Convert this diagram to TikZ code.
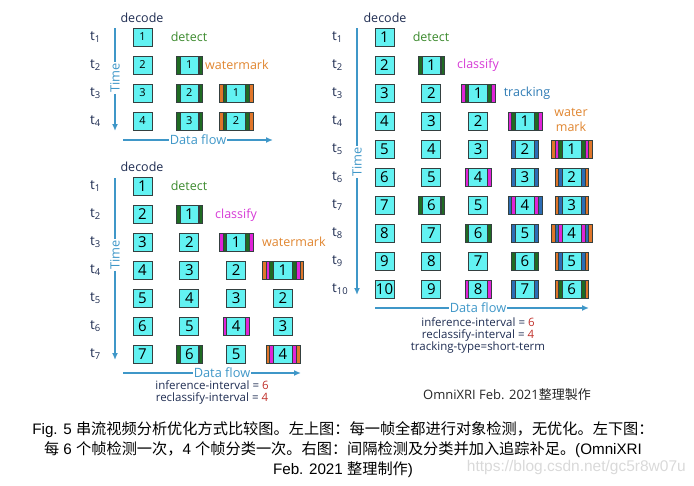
\documentclass[tikz,border=0pt]{standalone}
\usepackage{fontspec}
\setmainfont{Open Sans}
\newfontfamily\capfont{Liberation Sans}
\newfontfamily\cjk{Noto Sans CJK SC}
\newfontfamily\cjktc{Noto Sans CJK TC}
\usetikzlibrary{arrows.meta}

\definecolor{boxc}{HTML}{62F2F2}
\definecolor{edge}{HTML}{344040}
\definecolor{grn}{HTML}{1F6B22}
\definecolor{mag}{HTML}{E024D8}
\definecolor{org}{HTML}{E0762A}
\definecolor{blu}{HTML}{2C6DB5}
\definecolor{navy}{HTML}{1F2D52}
\definecolor{flow}{HTML}{3F97C8}
\definecolor{detc}{HTML}{3C8A2E}
\definecolor{clsc}{HTML}{D63AD6}
\definecolor{trkc}{HTML}{2E7BB4}
\definecolor{wmc}{HTML}{E0852F}
\definecolor{numr}{HTML}{C0302A}

\tikzset{
  cell/.style={draw=edge, fill=boxc, line width=0.9pt, minimum width=19pt,
    minimum height=18pt, inner sep=0pt, font=\fontsize{15}{15}\selectfont},
  smallnum/.style={font=\fontsize{11}{11}\selectfont},
  band/.style={draw=edge, line width=0.5pt},
  lab/.style={inner sep=1pt, font=\fontsize{12.5}{14.5}\selectfont},
  tlab/.style={lab, anchor=west, inner sep=0pt, text=navy, font=\fontsize{13.5}{15}\selectfont},
  flowtxt/.style={lab, text=flow, font=\fontsize{12.8}{14}\selectfont},
  flowline/.style={draw=flow, line width=1.4pt},
  tip/.style={-{Latex[length=7pt,width=6pt]}},
  note/.style={inner sep=0pt, text=navy, font=\fontsize{11.5}{13}\selectfont}
}

% stripes beside a frame, listed from inside out
\newcommand\strp[2]{%
  \foreach \c [count=\k] in {#2}{
    \filldraw[band,fill=\c,shift={(#1)}] ({-9.5-\k*3.7},-9) rectangle ({-5.8-\k*3.7},9);
    \filldraw[band,fill=\c,shift={(#1)}] ({5.8+\k*3.7},-9) rectangle ({9.5+\k*3.7},9);
  }}

\begin{document}
\begin{tikzpicture}[x=1pt,y=-1pt]
\useasboundingbox (0,0) rectangle (694,485);

% top left: every frame detected
\node[lab,text=navy] (tl-dec) at (142,18) {decode};
\foreach \r in {1,...,4}{
  \node[tlab] (tl-t\r) at (90,{37+28*(\r-1)}) {t\textsubscript{\r}};
  \foreach \c [evaluate=\c as \n using int(\r-\c+1)] in {1,...,\r}{
    \ifnum\c<4 \node[cell,smallnum] (tl-\r-\c) at ({142.5+46.8*(\c-1)},{37+28*(\r-1)}) {\n};\fi
  }
}
\strp{tl-2-2}{grn}
\strp{tl-3-2}{grn}
\strp{tl-4-2}{grn}
\strp{tl-3-3}{grn,org}
\strp{tl-4-3}{grn,org}
\node[lab,text=detc] (tl-det) at (189,37) {detect};
\node[lab,text=wmc,anchor=west] (tl-wm) at (204,65) {watermark};
\node[flowtxt,rotate=90] (tl-time) at (115,78) {Time};
\coordinate (tl-top) at (115,28);
\coordinate (tl-bot) at (115,131);
\draw[flowline] (tl-top) -- (tl-time);
\draw[flowline,tip] (tl-time) -- (tl-bot);
\node[flowtxt] (tl-flow) at (198,140) {Data flow};
\coordinate (tl-fl) at (123,140);
\coordinate (tl-fr) at (273,140);
\draw[flowline] (tl-fl) -- (tl-flow);
\draw[flowline,tip] (tl-flow) -- (tl-fr);

% bottom left: detect every 6, classify every 4
\node[lab,text=navy] (bl-dec) at (142,167) {decode};
\foreach \r in {1,...,7}{
  \node[tlab] (bl-t\r) at (90,{186+28*(\r-1)}) {t\textsubscript{\r}};
  \foreach \c [evaluate=\c as \n using int(\r-\c+1)] in {1,...,\r}{
    \ifnum\c<5 \node[cell] (bl-\r-\c) at ({142.5+46.8*(\c-1)},{186+28*(\r-1)}) {\n};\fi
  }
}
\strp{bl-2-2}{grn}
\strp{bl-3-3}{grn,mag}
\strp{bl-4-4}{grn,mag,org}
\strp{bl-6-3}{mag}
\strp{bl-7-2}{grn}
\strp{bl-7-4}{mag,org}
\node[lab,text=detc] (bl-det) at (189,186) {detect};
\node[lab,text=clsc] (bl-cls) at (236,215) {classify};
\node[lab,text=wmc,anchor=west] (bl-wm) at (261,242) {watermark};
\node[flowtxt,rotate=90] (bl-time) at (115,255) {Time};
\coordinate (bl-top) at (115,178);
\coordinate (bl-bot) at (115,360);
\draw[flowline] (bl-top) -- (bl-time);
\draw[flowline,tip] (bl-time) -- (bl-bot);
\node[flowtxt] (bl-flow) at (222,373) {Data flow};
\coordinate (bl-fl) at (123,373);
\coordinate (bl-fr) at (301,373);
\draw[flowline] (bl-fl) -- (bl-flow);
\draw[flowline,tip] (bl-flow) -- (bl-fr);
\node[note] (bl-inf) at (212,385) {inference-interval = \textcolor{numr}{6}};
\node[note] (bl-rcl) at (212,398) {reclassify-interval = \textcolor{numr}{4}};

% right: interval detect and classify plus tracking
\node[lab,text=navy] (r-dec) at (385,18) {decode};
\foreach \r in {1,...,10}{
  \node[tlab] (r-t\r) at (332,{37+28*(\r-1)}) {t\textsubscript{\r}};
  \foreach \c [evaluate=\c as \n using int(\r-\c+1)] in {1,...,\r}{
    \ifnum\c<6 \node[cell] (r-\r-\c) at ({384.5+46.8*(\c-1)},{37+28*(\r-1)}) {\n};\fi
  }
}
\strp{r-2-2}{grn}
\strp{r-3-3}{grn,mag}
\strp{r-4-4}{grn,mag}
\strp{r-5-4}{blu}
\strp{r-5-5}{grn,mag,org}
\strp{r-6-3}{mag}
\strp{r-6-4}{blu}
\strp{r-6-5}{blu,org}
\strp{r-7-2}{grn}
\strp{r-7-4}{mag,blu}
\strp{r-7-5}{blu,org}
\strp{r-8-3}{grn}
\strp{r-8-4}{blu}
\strp{r-8-5}{mag,blu,org}
\strp{r-9-4}{grn}
\strp{r-9-5}{blu,org}
\strp{r-10-3}{mag}
\strp{r-10-4}{blu}
\strp{r-10-5}{grn,org}
\node[lab,text=detc] (r-det) at (431,37) {detect};
\node[lab,text=clsc] (r-cls) at (478,65) {classify};
\node[lab,text=trkc] (r-trk) at (527,93) {tracking};
\node[lab,text=wmc,align=center] (r-wm) at (571,120) {water\\mark};
\node[flowtxt,rotate=90] (r-time) at (357,162) {Time};
\coordinate (r-top) at (357,28);
\coordinate (r-bot) at (357,295);
\draw[flowline] (r-top) -- (r-time);
\draw[flowline,tip] (r-time) -- (r-bot);
\node[flowtxt] (r-flow) at (478,308) {Data flow};
\coordinate (r-fl) at (375,308);
\coordinate (r-fr) at (589,308);
\draw[flowline] (r-fl) -- (r-flow);
\draw[flowline,tip] (r-flow) -- (r-fr);
\node[note] (r-inf) at (478,322) {inference-interval = \textcolor{numr}{6}};
\node[note] (r-rcl) at (478,335) {reclassify-interval = \textcolor{numr}{4}};
\node[note] (r-trt) at (478,348) {tracking-type=short-term};
\node[inner sep=0pt,text=black!85,font=\fontsize{13}{15}\selectfont] (sig) at (507,395) {OmniXRI Feb. 2021{\cjktc 整理製作}};

% caption
\node[inner sep=0pt,align=center,font=\capfont\fontsize{15.2}{20}\selectfont] (cap) at (343,450)
  {Fig. 5 {\cjk 串流视频分析优化方式比较图。左上图：每一帧全都进行对象检测，无优化。左下图：}\\
   {\cjk 每} 6 {\cjk 个帧检测一次，}4 {\cjk 个帧分类一次。右图：间隔检测及分类并加入追踪补足。}(OmniXRI\\
   Feb. 2021 {\cjk 整理制作})};
\node[inner sep=0pt,anchor=east,text=black!15,font=\capfont\fontsize{15.5}{18}\selectfont] (mark) at (686,467) {https://blog.csdn.net/gc5r8w07u};
\end{tikzpicture}
\end{document}
